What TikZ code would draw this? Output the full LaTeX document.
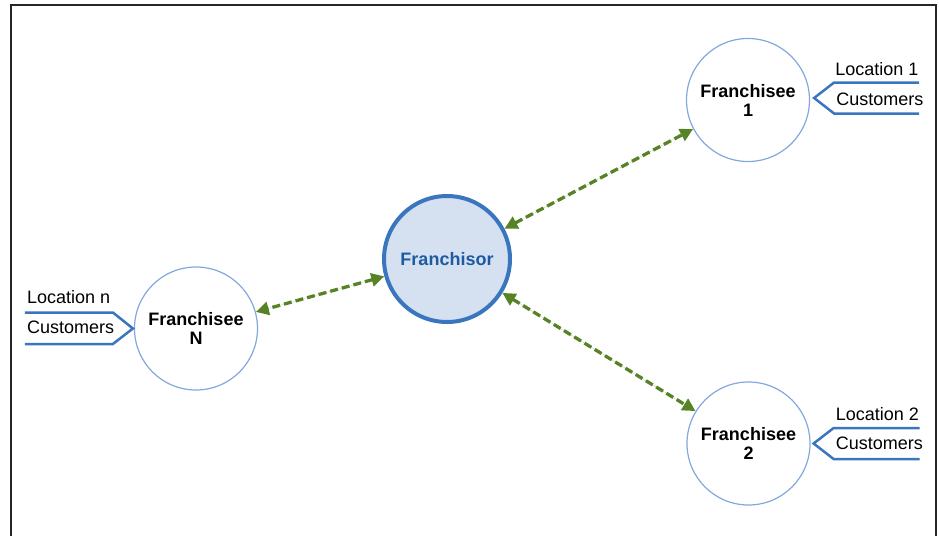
\documentclass[tikz,border=0pt]{standalone}
\usepackage{fontspec}
\setmainfont{Liberation Sans}
\usepackage{tikz}
\usetikzlibrary{calc,positioning,arrows.meta}

\definecolor{ringblue}{RGB}{130,168,222}
\definecolor{midblue}{RGB}{58,118,190}
\definecolor{paleblue}{RGB}{213,225,241}
\definecolor{darkblue}{RGB}{30,90,160}
\definecolor{linkgreen}{RGB}{88,130,38}

\tikzset{
	franchisee/.style={circle, draw=ringblue, line width=1.2pt, minimum size=123pt, inner sep=0pt,
		align=center, font=\bfseries\fontsize{18}{19}\selectfont},
	franchisor/.style={circle, draw=midblue, fill=paleblue, line width=4pt, minimum size=126pt,
		inner sep=0pt, text=darkblue, font=\bfseries\fontsize{18}{19}\selectfont},
	link/.style={{Triangle[length=13pt,width=13pt]}-{Triangle[length=13pt,width=13pt]},
		draw=linkgreen, fill=linkgreen, line width=3.3pt, dash pattern=on 8pt off 4pt},
	bracket/.style={draw=midblue, line width=2.5pt},
	loc/.style={font=\fontsize{18}{19}\selectfont, inner sep=0pt}
}

\begin{document}
\begin{tikzpicture}[x=1pt, y=-1pt]
		
		\useasboundingbox (0,0) rectangle (939,536);
		
		% frame
		\draw[line width=2pt, black!85] (10.5,536) -- (10.5,4.5) -- (936,4.5) -- (936,536);
		
		\node[franchisor] (hq) at (447,259) {Franchisor};
		\node[franchisee] (f1) at (748,100) {Franchisee\\1};
		\node[franchisee] (f2) at (748.5,443.5) {Franchisee\\2};
		\node[franchisee] (fn) at (196,328.5) {Franchisee\\N};
		
		\draw[link] (hq) -- (f1);
		\draw[link] (hq) -- (f2);
		\draw[link] (hq) -- (fn);
		
		% locations
		\coordinate (b1) at ($(f1.east)+(4,-2)$);
		\draw[bracket] ($(b1)+(105,-15.5)$) -- ($(b1)+(20,-15.5)$) -- (b1)
			-- ($(b1)+(20,15.5)$) -- ($(b1)+(105,15.5)$);
		\node[loc, anchor=west] (l1) at ($(b1)+(21,-29)$) {Location 1};
		\node[loc, anchor=west] (c1) at ($(b1)+(22,1)$) {Customers};
		
		\coordinate (b2) at ($(f2.east)+(3,0)$);
		\draw[bracket] ($(b2)+(106,-15.5)$) -- ($(b2)+(20,-15.5)$) -- (b2)
			-- ($(b2)+(20,15.5)$) -- ($(b2)+(106,15.5)$);
		\node[loc, anchor=west] (l2) at ($(b2)+(22,-29)$) {Location 2};
		\node[loc, anchor=west] (c2) at ($(b2)+(22,0)$) {Customers};
		
		\coordinate (bn) at ($(fn.west)+(-1,0)$);
		\draw[bracket] ($(bn)+(-108,-16)$) -- ($(bn)+(-20,-16)$) -- (bn)
			-- ($(bn)+(-20,15.5)$) -- ($(bn)+(-108,15.5)$);
		\node[loc, anchor=west] (ln) at ($(bn)+(-106,-31)$) {Location n};
		\node[loc, anchor=west] (cn) at ($(bn)+(-106,-1)$) {Customers};
		
	\end{tikzpicture}
\end{document}
